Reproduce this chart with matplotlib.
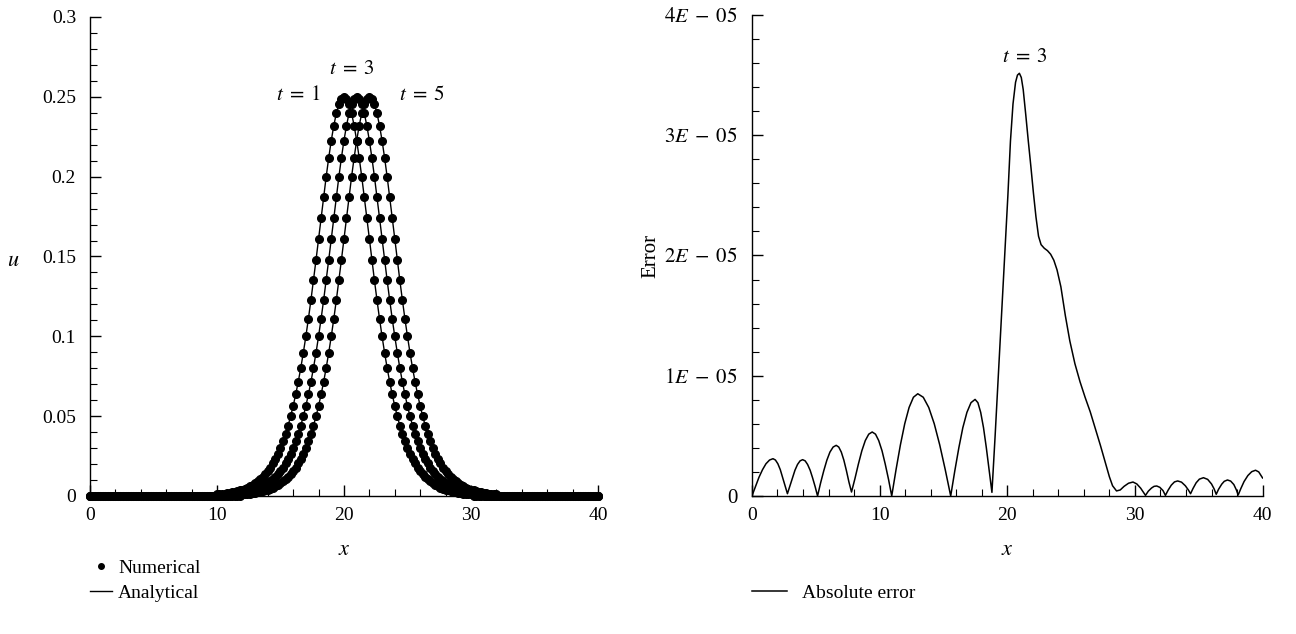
import numpy as np
import matplotlib
matplotlib.use("Agg")
import matplotlib.pyplot as plt
from matplotlib.ticker import MultipleLocator, FuncFormatter

plt.rcParams['font.family'] = ['Liberation Serif', 'DejaVu Serif']
plt.rcParams['mathtext.fontset'] = 'stix'
plt.rcParams['font.size'] = 14

# --- left panel: solitary wave at t = 1, 3, 5 (grid step 0.2) ---
x_grid = np.linspace(0, 40, 201)
# half profile u(s), s = 0, 0.2, ..., 10 from the crest
u_half = [0.25, 0.24882, 0.24532, 0.23965, 0.23198, 0.22260, 0.21181, 0.19993,
          0.18730, 0.17422, 0.16099, 0.14786, 0.13504, 0.12271, 0.11098, 0.09996,
          0.08969, 0.08020, 0.07150, 0.06357, 0.05638, 0.04990, 0.04408, 0.03887,
          0.03423, 0.03011, 0.02645, 0.02321, 0.02035, 0.01783, 0.01561, 0.01366,
          0.01195, 0.01044, 0.00912, 0.00797, 0.00696, 0.00608, 0.00530, 0.00463,
          0.00404, 0.00352, 0.00307, 0.00268, 0.00234, 0.00204, 0.00178, 0.00155,
          0.00135, 0.00118, 0.00103]
crest_x = [20.0, 21.0, 22.0]      # t = 1, 3, 5

# --- right panel: absolute error at t = 3 (values in units of 1E-06) ---
err_x = [0, 0.28, 0.55, 0.83, 1.10, 1.38, 1.65, 1.84, 2.03, 2.22, 2.40, 2.59, 2.78,
         2.98, 3.18, 3.37, 3.57, 3.77, 3.97, 4.17, 4.36, 4.56, 4.75, 4.95, 5.14,
         5.38, 5.63, 5.87, 6.11, 6.36, 6.60, 6.80, 7.00, 7.20, 7.40, 7.60, 7.80,
         8.07, 8.34, 8.61, 8.88, 9.15, 9.42, 9.68, 9.93, 10.19, 10.44, 10.70, 10.95,
         11.29, 11.63, 11.97, 12.31, 12.65, 12.99, 13.42, 13.85, 14.28, 14.71, 15.14, 15.57,
         15.89, 16.21, 16.52, 16.84, 17.16, 17.48, 17.70, 17.92, 18.14, 18.36, 18.58, 18.80,
         19.05, 19.30, 19.55, 19.80, 20.05, 20.25, 20.45, 20.65, 20.80, 20.95, 21.10,
         21.25, 21.45, 21.65, 21.85, 22.05, 22.25, 22.45, 22.65, 22.90, 23.15, 23.40,
         23.65, 23.90, 24.20, 24.55, 24.90, 25.30, 25.70, 26.10, 26.50, 26.90, 27.30,
         27.70, 28.00, 28.25, 28.56, 28.85, 29.15, 29.50, 29.85, 30.15, 30.45, 30.83,
         31.05, 31.30, 31.50, 31.71, 31.95, 32.20, 32.39,
         32.60, 32.85, 33.10, 33.35, 33.65, 33.95, 34.20, 34.36,
         34.55, 34.80, 35.05, 35.37, 35.70, 36.00, 36.20, 36.37,
         36.55, 36.80, 37.00, 37.25, 37.50, 37.75, 37.95, 38.09,
         38.30, 38.55, 38.85, 39.15, 39.45, 39.70, 40.00]
err_y = [0, 0.80, 1.55, 2.19, 2.68, 2.99, 3.10, 2.99, 2.68, 2.19, 1.55, 0.85, 0.19,
         0.85, 1.51, 2.14, 2.62, 2.92, 3.02, 2.92, 2.62, 2.14, 1.51, 0.78, 0,
         1.09, 2.11, 2.98, 3.65, 4.07, 4.21, 4.07, 3.65, 2.98, 2.11, 1.15, 0.33,
         1.45, 2.66, 3.76, 4.61, 5.14, 5.32, 5.14, 4.61, 3.76, 2.66, 1.38, 0,
         2.20, 4.25, 6.01, 7.36, 8.21, 8.50, 8.21, 7.36, 6.01, 4.25, 2.20, 0,
         2.08, 4.02, 5.68, 6.95, 7.76, 8.03, 7.76, 6.95, 5.68, 4.02, 2.15, 0.30,
         5.0, 10.0, 15.0, 20.0, 25.0, 29.5, 32.6, 34.4, 35.0, 35.15, 34.8,
         33.8, 31.7, 29.5, 27.4, 25.2, 23.2, 21.6, 20.9, 20.6, 20.4, 20.1,
         19.6, 18.8, 17.4, 15.0, 12.9, 11.0, 9.5, 8.2, 7.0, 5.6, 4.2,
         2.7, 1.6, 0.85, 0.42, 0.50, 0.80, 1.06, 1.16, 1.00, 0.65, 0.05,
         0.40, 0.66, 0.80, 0.83, 0.72, 0.45, 0.05,
         0.48, 0.90, 1.17, 1.25, 1.15, 0.85, 0.48, 0.19,
         0.62, 1.10, 1.40, 1.52, 1.38, 1.00, 0.60, 0.14,
         0.55, 0.98, 1.22, 1.33, 1.24, 0.95, 0.50, 0.08,
         0.62, 1.20, 1.70, 2.02, 2.14, 2.00, 1.50]


def style_axis(ax):
    for side in ['top', 'right']:
        ax.spines[side].set_visible(False)
    for side in ['left', 'bottom']:
        ax.spines[side].set_linewidth(1.0)
    ax.tick_params(which='both', direction='in', top=False, right=False)
    ax.tick_params(which='major', length=8, width=1)
    ax.tick_params(which='minor', length=5, width=0.8)
    ax.tick_params(axis='y', pad=10)
    ax.tick_params(axis='x', pad=8)


fig = plt.figure(figsize=(12.96, 6.34), dpi=100)

# left panel
ax1 = fig.add_axes([0.0694, 0.2177, 0.392, 0.7555])
profile = np.concatenate([u_half[::-1], u_half[1:]])
half_n = len(u_half) - 1
for c in crest_x:
    u = np.zeros(len(x_grid))
    i = int(round(c / 0.2))
    u[i - half_n:i + half_n + 1] = profile
    line_an, = ax1.plot(x_grid, u, '-', color='black', lw=1.0, zorder=2)
    line_num, = ax1.plot(x_grid, u, 'o', color='black', ms=5.5, mec='black',
                         zorder=3, clip_on=False)

ax1.set_xlim(0, 40)
ax1.set_ylim(0, 0.3)
ax1.xaxis.set_major_locator(MultipleLocator(10))
ax1.xaxis.set_minor_locator(MultipleLocator(2))
ax1.yaxis.set_major_locator(MultipleLocator(0.05))
ax1.yaxis.set_minor_locator(MultipleLocator(0.01))
ax1.yaxis.set_major_formatter(FuncFormatter(lambda v, p: '%g' % round(v, 3)))
style_axis(ax1)
ax1.set_xlabel('$x$', fontsize=16, labelpad=12)
ax1.set_ylabel('$u$', fontsize=16, rotation=0)
ax1.yaxis.set_label_coords(-0.15, 0.47)

ax1.text(16.4, 0.251, r'$t\;=\;1$', ha='center', va='center', fontsize=15)
ax1.text(20.6, 0.267, r'$t\;=\;3$', ha='center', va='center', fontsize=15)
ax1.text(26.1, 0.251, r'$t\;=\;5$', ha='center', va='center', fontsize=15)

num_handle = ax1.plot([], [], 'o', color='black', ms=4.0)[0]
fig.legend([num_handle, line_an], ['Numerical', 'Analytical'],
           loc='upper left', bbox_to_anchor=(0.0694, 0.118), frameon=False,
           handlelength=1.15, handletextpad=0.3, labelspacing=0.4,
           borderpad=0, borderaxespad=0, fontsize=14)

# right panel
ax2 = fig.add_axes([0.5802, 0.2177, 0.394, 0.7587])
err_line, = ax2.plot(err_x, np.array(err_y) * 1e-6, '-', color='black', lw=1.1)
ax2.set_xlim(0, 40)
ax2.set_ylim(0, 4e-5)
ax2.xaxis.set_major_locator(MultipleLocator(10))
ax2.xaxis.set_minor_locator(MultipleLocator(2))
ax2.yaxis.set_major_locator(MultipleLocator(1e-5))
ax2.yaxis.set_minor_locator(MultipleLocator(2e-6))


def err_fmt(v, p):
    k = int(round(v * 1e5))
    if k == 0:
        return '0'
    return r'$%dE\;-\;05$' % k


ax2.yaxis.set_major_formatter(FuncFormatter(err_fmt))
style_axis(ax2)
ax2.tick_params(axis='y', labelsize=15)
ax2.set_xlabel('$x$', fontsize=16, labelpad=12)
ax2.set_ylabel('Error', fontsize=15)
ax2.yaxis.set_label_coords(-0.18, 0.5)
ax2.text(21.4, 3.65e-5, r'$t\;=\;3$', ha='center', va='center', fontsize=15)

fig.legend([err_line], ['Absolute error'],
           loc='upper left', bbox_to_anchor=(0.5802, 0.078), frameon=False,
           handlelength=1.8, handletextpad=0.8, borderpad=0, borderaxespad=0,
           fontsize=14)

fig.savefig('out.png', dpi=100)
